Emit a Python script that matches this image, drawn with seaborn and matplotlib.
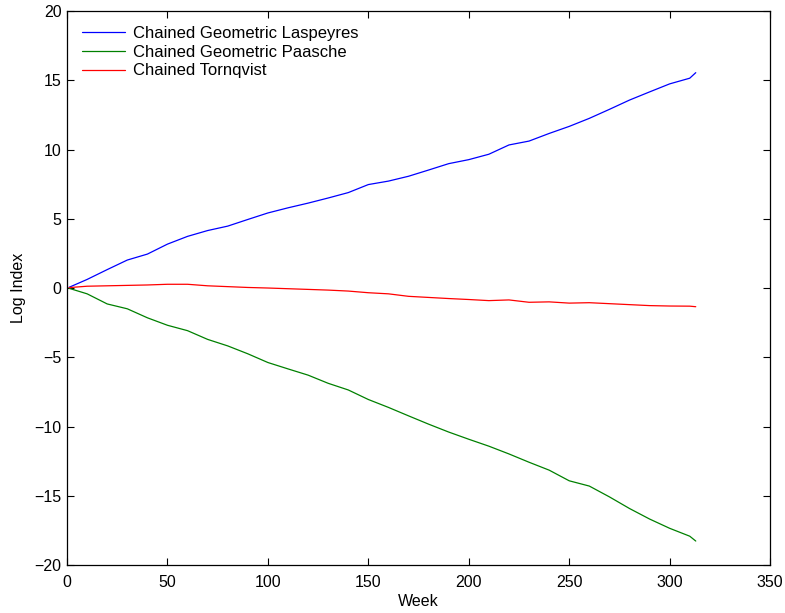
import matplotlib
matplotlib.use("Agg")
import matplotlib.pyplot as plt
import seaborn as sns
import pandas as pd

# Sampled weeks and log-index values for the three chained indices
weeks = [1, 10, 20, 30, 40, 50, 60, 70, 80, 90, 100, 110, 120, 130, 140, 150,
         160, 170, 180, 190, 200, 210, 220, 230, 240, 250, 260, 270, 280, 290,
         300, 310, 313]

laspeyres = [0.05, 0.62, 1.33, 2.02, 2.45, 3.17, 3.73, 4.15, 4.47, 4.95, 5.42,
             5.79, 6.13, 6.50, 6.89, 7.47, 7.72, 8.07, 8.52, 8.98, 9.27, 9.66,
             10.33, 10.61, 11.16, 11.67, 12.25, 12.90, 13.57, 14.16, 14.74,
             15.15, 15.55]

paasche = [-0.02, -0.42, -1.15, -1.50, -2.15, -2.69, -3.08, -3.71, -4.18,
           -4.75, -5.38, -5.84, -6.29, -6.88, -7.36, -8.05, -8.62, -9.23,
           -9.83, -10.40, -10.92, -11.42, -11.98, -12.58, -13.15, -13.92,
           -14.30, -15.08, -15.92, -16.68, -17.35, -17.92, -18.27]

tornqvist = [0.03, 0.13, 0.16, 0.19, 0.22, 0.27, 0.27, 0.16, 0.10, 0.04, 0.00,
             -0.05, -0.10, -0.15, -0.22, -0.34, -0.42, -0.60, -0.68, -0.76,
             -0.83, -0.91, -0.86, -1.03, -1.00, -1.09, -1.06, -1.13, -1.20,
             -1.27, -1.30, -1.31, -1.35]

series_names = ["Chained Geometric Laspeyres", "Chained Geometric Paasche",
                "Chained Tornqvist"]
series_colors = ["#0000ff", "#008000", "#ff0000"]

df = pd.DataFrame({
    "Week": weeks * 3,
    "Log Index": laspeyres + paasche + tornqvist,
    "Index": [series_names[0]] * len(weeks) + [series_names[1]] * len(weeks)
             + [series_names[2]] * len(weeks),
})

sns.set_style("ticks")
plt.rcParams["font.family"] = ["Liberation Sans", "DejaVu Sans"]
plt.rcParams["font.size"] = 11.5
plt.rcParams["text.color"] = "black"
plt.rcParams["axes.labelcolor"] = "black"
plt.rcParams["xtick.color"] = "black"
plt.rcParams["ytick.color"] = "black"

fig = plt.figure(figsize=(7.85, 6.13), dpi=100)
ax = fig.add_axes([0.0854, 0.0783, 0.8956, 0.9037])

sns.lineplot(data=df, x="Week", y="Log Index", hue="Index",
             palette=dict(zip(series_names, series_colors)),
             linewidth=0.9, ax=ax, legend=True)

ax.set_xlim(0, 350)
ax.set_ylim(-20, 20)
ax.set_xticks(range(0, 351, 50))
ax.set_yticks(range(-20, 21, 5))
ax.tick_params(direction="in", length=4.7, width=0.8, top=True, right=True,
               labelsize=11.5, color="black", labelcolor="black")
ax.tick_params(axis="x", pad=7.5)
ax.tick_params(axis="y", pad=4)
for sp in ax.spines.values():
    sp.set_visible(True)
    sp.set_linewidth(0.9)
    sp.set_color("black")

ax.set_xlabel("Week", fontsize=11.5, labelpad=2.5)
ax.set_ylabel("Log Index", fontsize=11.5, labelpad=6)

leg = ax.legend(loc="upper left", frameon=False, fontsize=12,
                handlelength=2.6, handletextpad=0.45, labelspacing=0.22,
                borderaxespad=0.3, borderpad=0.6)
leg.set_title(None)

fig.savefig("out.png", dpi=100)
